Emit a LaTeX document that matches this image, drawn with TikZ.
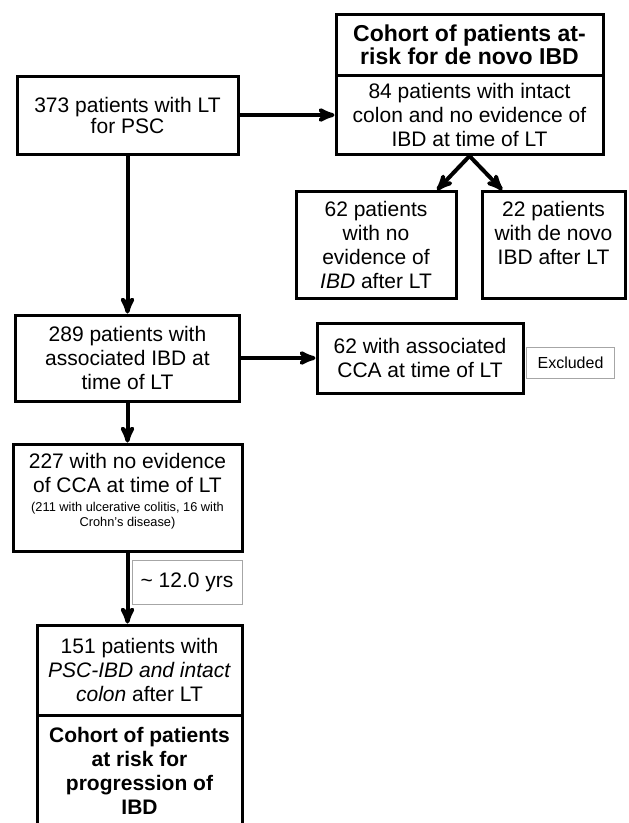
\documentclass[tikz,border=0pt]{standalone}
\usepackage{fontspec}
\setmainfont{Liberation Sans}
\usetikzlibrary{arrows, positioning}

\begin{document}
\begin{tikzpicture}[->, >=stealth', x=1pt, y=-1pt, on grid, line width=4pt]
      \tikzstyle{box}=[draw=black, line width=3pt, fill=white, align=center, inner sep=4pt, font=\fontsize{21}{24}\selectfont]
      \tikzstyle{head}=[box, font=\fontsize{23}{23.5}\selectfont\bfseries]
      \tikzstyle{note}=[draw=gray!70, line width=1pt, inner sep=2pt]
      \useasboundingbox (0,0) rectangle (629,823);
      \node[box, minimum width=221pt, minimum height=78pt] (lt) at (127.5,115) {373 patients with LT\\[-3pt]for PSC};
      \node[box, minimum width=267pt, minimum height=79pt] (at84) [right=342pt of lt] {84 patients with intact\\colon and no evidence of\\IBD at time of LT};
      \node[head, minimum width=267pt, minimum height=61pt] (riskA) [above=70pt of at84] {Cohort of patients at-\\risk for de novo IBD};
      \node[box, minimum width=160pt, minimum height=107pt] (nibd) [below left=130pt and 93.5pt of at84] {62 patients\\with no\\evidence of\\\textit{IBD} after LT};
      \node[box, minimum width=143pt, minimum height=107pt] (denovo) [below right=130pt and 84pt of at84] {22 patients\\with de novo\\IBD after LT\\~};
      \node[box, minimum width=224pt, minimum height=86pt] (ibd289) [below=243pt of lt] {289 patients with\\associated IBD at\\time of LT};
      \node[box, minimum width=206pt, minimum height=70pt] (cca) [right=292.5pt of ibd289] {62 with associated\\CCA at time of LT};
      \node[note, anchor=west, minimum width=88pt, minimum height=31pt, font=\fontsize{16}{19}\selectfont] (excl) at ([xshift=1.5pt, yshift=-4.5pt]cca.east) {Excluded};
      \node[box, minimum width=229pt, minimum height=107pt] (nocca) [below=139.5pt of ibd289] {227 with no evidence\\of CCA at time of LT\\[-5pt]{\fontsize{12.8}{15}\selectfont (211 with ulcerative colitis, 16 with}\\[-9pt]{\fontsize{12.8}{15}\selectfont Crohn’s disease)}\\[-9pt]~};
      \node[note, minimum width=110pt, minimum height=44pt, font=\fontsize{21}{24}\selectfont] (yrs) at (187,582) {\textasciitilde{} 12.0 yrs};
      \node[box, minimum width=205pt, minimum height=90pt] (psc151) [below=172.5pt of nocca, xshift=12pt] {151 patients with\\\textit{PSC-IBD and intact}\\\textit{colon} after LT};
      \node[box, minimum width=205pt, minimum height=112pt, font=\fontsize{21}{24}\selectfont\bfseries] (riskB) [below=101pt of psc151] {Cohort of patients\\at risk for\\progression of\\IBD};
      \path (lt) edge (at84);
      \path (at84.south) edge (nibd.42);
      \path (at84.south) edge (denovo.133);
      \path (lt) edge (ibd289);
      \path (ibd289) edge (cca);
      \path (ibd289) edge (nocca);
      \path (nocca.south) edge (nocca.south |- psc151.north);
    \end{tikzpicture}
\end{document}
